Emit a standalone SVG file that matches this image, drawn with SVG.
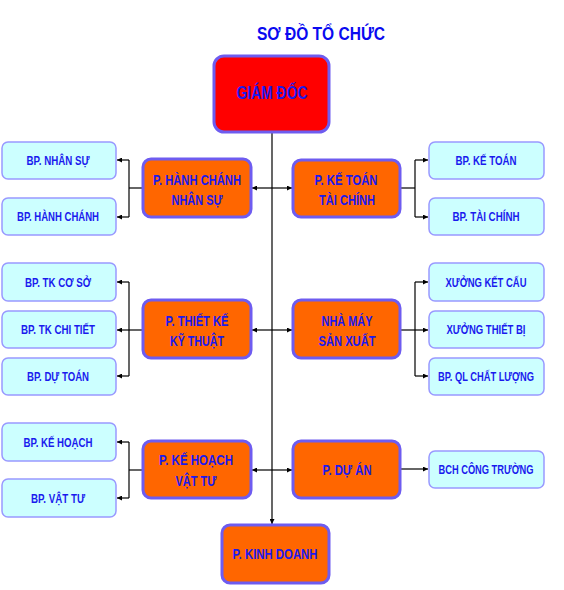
<svg xmlns="http://www.w3.org/2000/svg" width="564" height="590" viewBox="0 0 564 590">
<defs>
<marker id="arr" viewBox="0 0 10 10" refX="10" refY="5" markerWidth="5" markerHeight="5" orient="auto" markerUnits="userSpaceOnUse">
<path d="M0,0 L10,5 L0,10 Z" fill="#000"/>
</marker>
<style>
.t{font-family:"Liberation Sans",Arial,sans-serif;font-weight:bold;fill:#1a1aee;text-anchor:middle;}
.lb rect{fill:#ccffff;stroke:#9999ff;stroke-width:1.5;}
.ob rect{fill:#ff6600;stroke:#6e5cf0;stroke-width:3;}
.lb text{font-size:13.5px;}
.ob text{font-size:15px;}
.lb text.sm{font-size:12.5px;}
.c line{stroke:#000;stroke-width:1.2;fill:none;}
</style>
</defs>
<rect width="564" height="590" fill="#fff"/>
<text class="t" x="321" y="40" textLength="128" lengthAdjust="spacingAndGlyphs" style="font-size:19px;fill:#0a0af0">SƠ ĐỒ TỔ CHỨC</text>

<g id="connectors" class="c">
<line x1="272" y1="132" x2="272" y2="524" marker-end="url(#arr)"/>
<line x1="272" y1="188" x2="252" y2="188" marker-end="url(#arr)"/>
<line x1="272" y1="188" x2="292" y2="188" marker-end="url(#arr)"/>
<line x1="272" y1="330" x2="252" y2="330" marker-end="url(#arr)"/>
<line x1="272" y1="330" x2="292" y2="330" marker-end="url(#arr)"/>
<line x1="272" y1="470" x2="252" y2="470" marker-end="url(#arr)"/>
<line x1="272" y1="470" x2="292" y2="470" marker-end="url(#arr)"/>
<line x1="143" y1="188" x2="129" y2="188"/>
<line x1="129" y1="160" x2="129" y2="217"/>
<line x1="129" y1="160" x2="117" y2="160" marker-end="url(#arr)"/>
<line x1="129" y1="217" x2="117" y2="217" marker-end="url(#arr)"/>
<line x1="400" y1="188" x2="415" y2="188"/>
<line x1="415" y1="160" x2="415" y2="217"/>
<line x1="415" y1="160" x2="428" y2="160" marker-end="url(#arr)"/>
<line x1="415" y1="217" x2="428" y2="217" marker-end="url(#arr)"/>
<line x1="129" y1="282" x2="129" y2="376"/>
<line x1="129" y1="282" x2="117" y2="282" marker-end="url(#arr)"/>
<line x1="143" y1="330" x2="117" y2="330" marker-end="url(#arr)"/>
<line x1="129" y1="376" x2="117" y2="376" marker-end="url(#arr)"/>
<line x1="415" y1="282" x2="415" y2="376"/>
<line x1="415" y1="282" x2="428" y2="282" marker-end="url(#arr)"/>
<line x1="400" y1="330" x2="428" y2="330" marker-end="url(#arr)"/>
<line x1="415" y1="376" x2="428" y2="376" marker-end="url(#arr)"/>
<line x1="143" y1="470" x2="129" y2="470"/>
<line x1="129" y1="442" x2="129" y2="498"/>
<line x1="129" y1="442" x2="117" y2="442" marker-end="url(#arr)"/>
<line x1="129" y1="498" x2="117" y2="498" marker-end="url(#arr)"/>
<line x1="400" y1="469" x2="428" y2="469" marker-end="url(#arr)"/>
</g>

<g id="giam-doc">
<rect x="214" y="56" width="115" height="76" rx="10" fill="#ff0000" stroke="#6e5cf0" stroke-width="3"/>
<text class="t" x="272" y="99" textLength="71" lengthAdjust="spacingAndGlyphs" style="font-size:17.5px">GIÁM ĐỐC</text>
</g>

<g id="p-hanh-chanh" class="ob">
<rect x="143" y="159" width="108" height="58" rx="8"/>
<text class="t" x="197" y="185" textLength="88" lengthAdjust="spacingAndGlyphs">P. HÀNH CHÁNH</text>
<text class="t" x="197" y="205" textLength="51" lengthAdjust="spacingAndGlyphs">NHÂN SỰ</text>
</g>
<g id="p-ke-toan" class="ob">
<rect x="293" y="160" width="107" height="57" rx="8"/>
<text class="t" x="346" y="185" textLength="63" lengthAdjust="spacingAndGlyphs">P. KẾ TOÁN</text>
<text class="t" x="347" y="205" textLength="56" lengthAdjust="spacingAndGlyphs">TÀI CHÍNH</text>
</g>
<g id="p-thiet-ke" class="ob">
<rect x="143" y="300" width="108" height="58" rx="8"/>
<text class="t" x="197" y="326" textLength="63" lengthAdjust="spacingAndGlyphs">P. THIẾT KẾ</text>
<text class="t" x="197" y="346" textLength="54" lengthAdjust="spacingAndGlyphs">KỸ THUẬT</text>
</g>
<g id="nha-may" class="ob">
<rect x="293" y="300" width="107" height="58" rx="8"/>
<text class="t" x="347" y="326" textLength="51" lengthAdjust="spacingAndGlyphs">NHÀ MÁY</text>
<text class="t" x="347" y="346" textLength="57" lengthAdjust="spacingAndGlyphs">SẢN XUẤT</text>
</g>
<g id="p-ke-hoach" class="ob">
<rect x="143" y="441" width="108" height="57" rx="8"/>
<text class="t" x="196" y="465" textLength="74" lengthAdjust="spacingAndGlyphs">P. KẾ HOẠCH</text>
<text class="t" x="196" y="486" textLength="41" lengthAdjust="spacingAndGlyphs">VẬT TƯ</text>
</g>
<g id="p-du-an" class="ob">
<rect x="293" y="441" width="107" height="57" rx="8"/>
<text class="t" x="347" y="475" textLength="49" lengthAdjust="spacingAndGlyphs">P. DỰ ÁN</text>
</g>
<g id="p-kinh-doanh" class="ob">
<rect x="222" y="525" width="107" height="58" rx="8"/>
<text class="t" x="275" y="559" textLength="85" lengthAdjust="spacingAndGlyphs">P. KINH DOANH</text>
</g>

<g id="bp-nhan-su" class="lb">
<rect x="2" y="142" width="114" height="37" rx="6"/>
<text class="t" x="58" y="165" textLength="63" lengthAdjust="spacingAndGlyphs">BP. NHÂN SỰ</text>
</g>
<g id="bp-hanh-chanh" class="lb">
<rect x="2" y="198" width="114" height="37" rx="6"/>
<text class="t" x="58" y="221" textLength="82" lengthAdjust="spacingAndGlyphs">BP. HÀNH CHÁNH</text>
</g>
<g id="bp-ke-toan" class="lb">
<rect x="429" y="142" width="115" height="37" rx="6"/>
<text class="t" x="486" y="165" textLength="61" lengthAdjust="spacingAndGlyphs">BP. KẾ TOÁN</text>
</g>
<g id="bp-tai-chinh" class="lb">
<rect x="429" y="198" width="115" height="37" rx="6"/>
<text class="t" x="486" y="221" textLength="67" lengthAdjust="spacingAndGlyphs">BP. TÀI CHÍNH</text>
</g>
<g id="bp-tk-co-so" class="lb">
<rect x="2" y="263" width="114" height="38" rx="6"/>
<text class="t" x="58" y="287" textLength="66" lengthAdjust="spacingAndGlyphs">BP. TK CƠ SỞ</text>
</g>
<g id="bp-tk-chi-tiet" class="lb">
<rect x="2" y="311" width="114" height="37" rx="6"/>
<text class="t" x="58" y="334" textLength="74" lengthAdjust="spacingAndGlyphs">BP. TK CHI TIẾT</text>
</g>
<g id="bp-du-toan" class="lb">
<rect x="2" y="358" width="114" height="37" rx="6"/>
<text class="t" x="58" y="381" textLength="62" lengthAdjust="spacingAndGlyphs">BP. DỰ TOÁN</text>
</g>
<g id="xuong-ket-cau" class="lb">
<rect x="429" y="263" width="115" height="38" rx="6"/>
<text class="t" x="486" y="287" textLength="81" lengthAdjust="spacingAndGlyphs">XƯỞNG KẾT CẤU</text>
</g>
<g id="xuong-thiet-bi" class="lb">
<rect x="429" y="311" width="115" height="37" rx="6"/>
<text class="t" x="486" y="334" textLength="79" lengthAdjust="spacingAndGlyphs">XƯỞNG THIẾT BỊ</text>
</g>
<g id="bp-ql-chat-luong" class="lb">
<rect x="429" y="358" width="115" height="37" rx="6"/>
<text class="t sm" x="486" y="381" textLength="96" lengthAdjust="spacingAndGlyphs">BP. QL CHẤT LƯỢNG</text>
</g>
<g id="bp-ke-hoach" class="lb">
<rect x="2" y="423" width="114" height="38" rx="6"/>
<text class="t" x="58" y="447" textLength="69" lengthAdjust="spacingAndGlyphs">BP. KẾ HOẠCH</text>
</g>
<g id="bp-vat-tu" class="lb">
<rect x="2" y="479" width="114" height="38" rx="6"/>
<text class="t" x="58" y="503" textLength="54" lengthAdjust="spacingAndGlyphs">BP. VẬT TƯ</text>
</g>
<g id="bch-cong-truong" class="lb">
<rect x="429" y="451" width="115" height="37" rx="6"/>
<text class="t sm" x="486" y="474" textLength="95" lengthAdjust="spacingAndGlyphs">BCH CÔNG TRƯỜNG</text>
</g>
</svg>
